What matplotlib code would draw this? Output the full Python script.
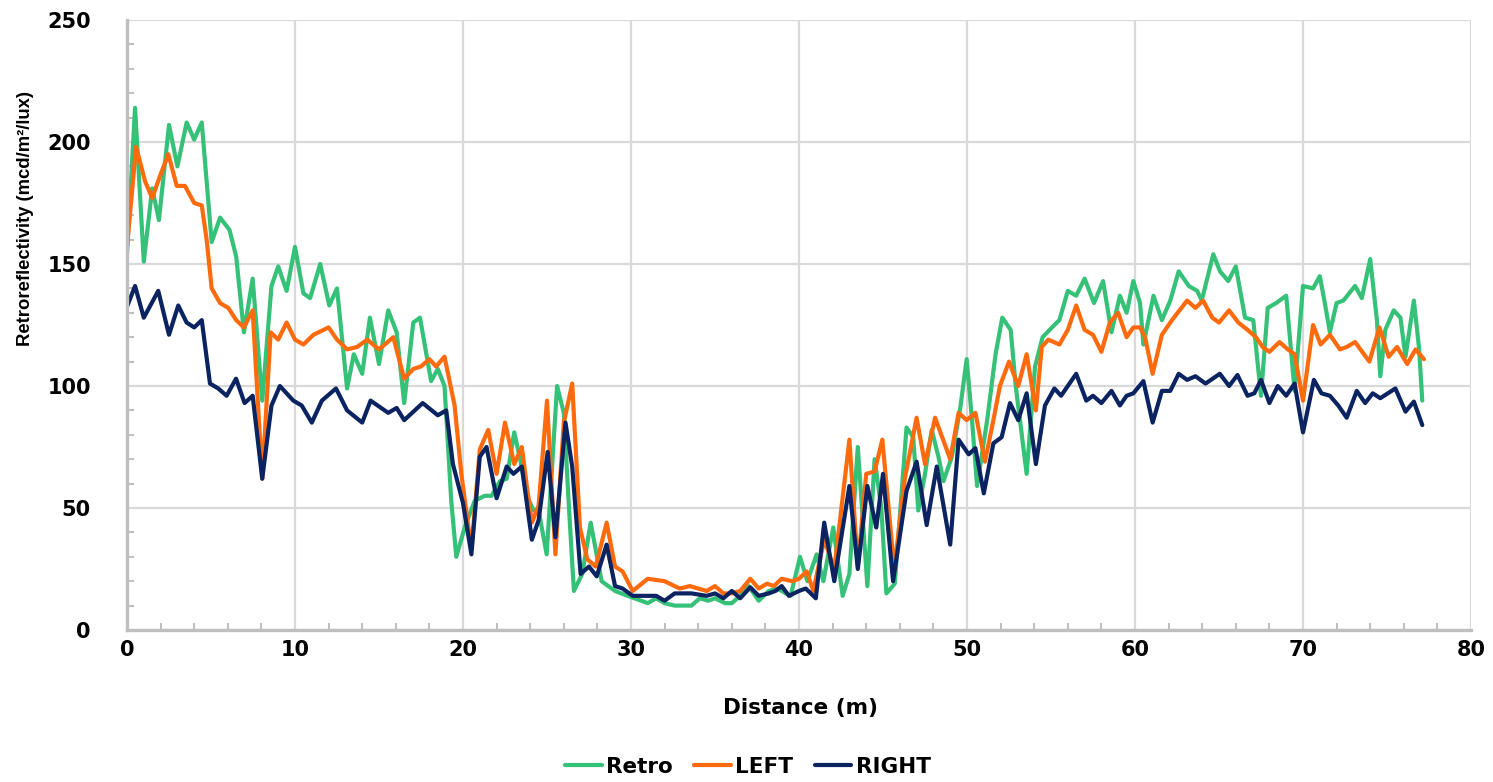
#!/usr/bin/env python3
"""Retroreflectivity along the marking: Retro / LEFT / RIGHT traces."""

import matplotlib
matplotlib.use("Agg")
import matplotlib.pyplot as plt
from matplotlib.ticker import MultipleLocator

# --- values (distance in m, retro in mcd/m2/lux) ---
retro_x = [0, 0.48, 1.0, 1.5, 1.9, 2.5, 3.0, 3.55, 4.0, 4.45,
           5.04, 5.54, 6.1, 6.5, 6.96, 7.48, 8.05, 8.6, 9.0, 9.5,
           10.0, 10.5, 10.9, 11.5, 12.04, 12.5, 13.1, 13.5, 14.0, 14.46,
           15.0, 15.55, 16.05, 16.5, 17.04, 17.44, 18.1, 18.5, 18.9, 19.3,
           19.6, 20.1, 20.7, 21.3, 21.7, 22.2, 22.6, 23.05, 23.4, 23.8,
           24.2, 24.5, 24.98, 25.6, 26.0, 26.3, 26.6, 27.1, 27.6, 28.25,
           29.05, 29.8, 30.6, 31.0, 31.5, 32.0, 32.6, 33.6, 34.1, 34.6,
           35.0, 35.6, 36.0, 36.5, 37.0, 37.6, 38.2, 38.7, 38.97, 39.5,
           40.06, 40.5, 41.05, 41.45, 42.04, 42.6, 43.0, 43.5, 44.07, 44.5,
           44.9, 45.2, 45.7, 46.4, 46.8, 47.1, 47.5, 47.9, 48.3, 48.6,
           49.1, 49.6, 49.98, 50.3, 50.6, 51.2, 51.7, 52.1, 52.6, 52.9,
           53.55, 54.05, 54.5, 55.2, 55.5, 56.0, 56.5, 57.0, 57.56, 58.1,
           58.6, 59.1, 59.5, 59.9, 60.3, 60.5, 61.1, 61.6, 62.1, 62.6,
           63.2, 63.7, 63.97, 64.66, 65.06, 65.55, 66.0, 66.55, 67.04, 67.5,
           67.9, 68.4, 69.0, 69.5, 70.0, 70.6, 71.0, 71.3, 71.6, 72.0,
           72.4, 73.1, 73.5, 74.0, 74.4, 74.6, 74.9, 75.4, 75.8, 76.1,
           76.6, 76.9, 77.1]
retro_y = [154, 214, 151, 181, 168, 207, 190, 208, 201, 208,
           159, 169, 164, 153, 122, 144, 94, 141, 149, 139,
           157, 138, 136, 150, 133, 140, 99, 113, 105, 128,
           109, 131, 122, 93, 126, 128, 102, 107, 100, 53,
           30, 42, 53, 55, 55, 61, 62, 81, 70, 55,
           49, 49, 31, 100, 89, 51, 16, 23, 44, 20,
           16, 14, 12, 11, 13, 11, 10, 10, 13, 12,
           13, 11, 11, 14, 18, 12, 16, 17, 16, 14,
           30, 20, 31, 20, 42, 14, 23, 75, 18, 70,
           50, 15, 19, 83, 79, 49, 64, 82, 71, 61,
           71, 91, 111, 86, 59, 86, 113, 128, 123, 100,
           64, 108, 120, 125, 127, 139, 137, 144, 134, 143,
           122, 137, 130, 143, 134, 117, 137, 127, 135, 147,
           141, 139, 135, 154, 147, 143, 149, 128, 127, 96,
           132, 134, 137, 98, 141, 140, 145, 134, 122, 134,
           135, 141, 136, 152, 127, 104, 123, 131, 128, 112,
           135, 116, 94]

left_x = [0, 0.54, 1.07, 1.5, 1.96, 2.46, 2.96, 3.45, 4.0, 4.45,
          4.74, 5.04, 5.54, 6.03, 6.5, 6.96, 7.48, 8.05, 8.55, 9.0,
          9.5, 10.0, 10.5, 11.1, 12.0, 12.5, 13.1, 13.7, 14.3, 15.0,
          15.85, 16.5, 17.04, 17.5, 18.0, 18.4, 18.9, 19.5, 19.9, 20.5,
          21.0, 21.5, 22.0, 22.5, 23.05, 23.5, 23.8, 24.1, 24.5, 25.0,
          25.5, 26.0, 26.5, 26.96, 27.4, 27.9, 28.55, 29.05, 29.5, 30.1,
          31.0, 32.0, 32.9, 33.5, 34.0, 34.5, 35.0, 35.5, 36.0, 36.5,
          37.1, 37.6, 38.1, 38.5, 38.97, 39.6, 40.0, 40.46, 40.85, 41.5,
          42.1, 43.0, 43.5, 44.0, 44.5, 44.96, 45.67, 46.3, 47.0, 47.5,
          48.1, 49.0, 49.5, 49.98, 50.5, 51.07, 51.57, 51.96, 52.5, 53.05,
          53.55, 54.1, 54.45, 54.84, 55.5, 56.0, 56.5, 57.0, 57.5, 58.0,
          58.5, 59.0, 59.5, 59.9, 60.3, 60.6, 61.05, 61.6, 62.2, 63.1,
          63.6, 64.05, 64.6, 65.0, 65.6, 66.15, 66.7, 67.2, 67.6, 68.0,
          68.6, 69.1, 69.5, 70.0, 70.6, 71.05, 71.6, 72.2, 72.6, 73.1,
          73.95, 74.55, 75.1, 75.6, 76.2, 76.7, 77.2]
left_y = [157, 198, 184, 177, 186, 195, 182, 182, 175, 174,
          160, 140, 134, 132, 127, 124, 131, 62, 122, 119,
          126, 119, 117, 121, 124, 119, 115, 116, 119, 115,
          120, 103, 107, 108, 111, 108, 112, 92, 64, 33,
          74, 82, 64, 85, 68, 75, 59, 44, 51, 94,
          31, 85, 101, 42, 29, 26, 44, 26, 24, 16,
          21, 20, 17, 18, 17, 16, 18, 15, 15, 16,
          21, 17, 19, 18, 21, 20, 21, 24, 16, 37,
          25, 78, 26, 64, 65, 78, 25, 62, 87, 68,
          87, 70, 89, 86, 89, 69, 86, 100, 110, 100,
          113, 90, 116, 119, 117, 123, 133, 123, 121, 114,
          126, 130, 120, 124, 124, 120, 105, 121, 127, 135,
          132, 135, 128, 126, 131, 126, 123, 120, 116, 114,
          118, 115, 113, 94, 125, 117, 121, 115, 116, 118,
          110, 124, 112, 116, 109, 115, 111]

right_x = [0, 0.48, 1.0, 1.86, 2.5, 3.05, 3.55, 4.0, 4.45, 4.94,
           5.43, 5.93, 6.49, 7.0, 7.48, 8.05, 8.6, 9.1, 9.9, 10.4,
           11.0, 11.6, 12.44, 13.1, 14.0, 14.5, 15.55, 16.05, 16.5, 17.6,
           18.5, 19.0, 19.4, 20.0, 20.5, 21.0, 21.4, 22.0, 22.6, 23.0,
           23.5, 24.1, 24.5, 25.04, 25.5, 26.1, 26.5, 27.0, 27.5, 27.96,
           28.55, 29.05, 29.5, 30.1, 30.6, 31.0, 31.5, 32.0, 32.6, 33.6,
           34.5, 35.0, 35.5, 36.0, 36.5, 37.1, 37.6, 38.2, 38.6, 38.97,
           39.4, 40.0, 40.4, 41.0, 41.5, 42.1, 43.0, 43.5, 44.07, 44.6,
           45.0, 45.6, 46.4, 47.0, 47.6, 48.2, 49.0, 49.5, 50.1, 50.5,
           51.0, 51.57, 52.06, 52.56, 53.05, 53.55, 54.1, 54.64, 55.2, 55.6,
           56.5, 57.1, 57.5, 58.0, 58.6, 59.1, 59.5, 59.9, 60.5, 61.05,
           61.6, 62.1, 62.6, 63.1, 63.6, 64.2, 65.05, 65.6, 66.1, 66.7,
           67.1, 67.5, 68.0, 68.5, 69.0, 69.5, 70.0, 70.65, 71.1, 71.6,
           72.1, 72.6, 73.2, 73.7, 74.15, 74.6, 75.5, 76.1, 76.6, 77.1]
right_y = [132.5, 141, 128, 139, 121, 133, 126, 124, 127, 101,
           99, 96, 103, 93, 96, 62, 92, 100, 94, 92,
           85, 94, 99, 90, 85, 94, 89, 91, 86, 93,
           88, 90, 68, 52, 31, 71, 75, 54, 67, 64,
           67, 37, 45, 73, 38, 85, 67, 23, 26, 22,
           35, 18, 17, 14, 14, 14, 14, 12, 15, 15,
           14, 15, 13, 16, 13, 17.5, 14, 15, 16, 18,
           14, 16, 17, 13, 44, 20, 59, 25, 59, 42,
           64, 20, 57, 69, 43, 67, 35, 78, 72, 74.5,
           56, 76.5, 79, 93, 86, 97, 68, 92, 99, 96,
           105, 94, 96, 93, 98, 92, 96, 97, 102, 85,
           98, 98, 105, 102.5, 104, 101, 105, 100, 104.5, 96,
           97, 102.5, 93, 100, 96, 101, 81, 102.5, 97, 96,
           92, 87, 98, 93, 97, 95, 99, 89.5, 93.6, 84]

series = [
    ("Retro", retro_x, retro_y, "#35C178"),
    ("LEFT", left_x, left_y, "#FF6A0D"),
    ("RIGHT", right_x, right_y, "#0B2461"),
]

W, H = 1493, 782
fig = plt.figure(figsize=(W / 100, H / 100), dpi=100)
ax = fig.add_axes([127 / W, 1 - 630 / H, (1471 - 127) / W, (630 - 20) / H])

for name, xs, ys, col in series:
    ax.plot(xs, ys, color=col, lw=3.0, label=name,
            solid_joinstyle="round", solid_capstyle="round")

ax.set_xlim(0, 80)
ax.set_ylim(0, 250)
ax.xaxis.set_major_locator(MultipleLocator(10))
ax.xaxis.set_minor_locator(MultipleLocator(2))
ax.yaxis.set_major_locator(MultipleLocator(50))
ax.yaxis.set_minor_locator(MultipleLocator(10))

grid_col = "#D9D9D9"
ax.grid(True, which="major", color=grid_col, lw=1.6)
ax.set_axisbelow(True)
for side in ("top", "right"):
    ax.spines[side].set_visible(False)
for side in ("left", "bottom"):
    ax.spines[side].set_color("#BFBFBF")
    ax.spines[side].set_linewidth(2.4)

ax.tick_params(which="both", direction="in", color="#BFBFBF", width=1.5)
ax.tick_params(which="major", length=0)
ax.tick_params(which="minor", length=5)
ax.tick_params(axis="x", which="major", pad=7)
ax.tick_params(axis="y", which="major", pad=26)
for lab in ax.get_xticklabels() + ax.get_yticklabels():
    lab.set_fontsize(15)
    lab.set_fontweight("bold")
    lab.set_family("DejaVu Sans")

fig.text(26 / W, 1 - 219 / H, "Retroreflectivity (mcd/m\u00b2/lux)",
         rotation=90, ha="center", va="center", fontsize=13.3,
         fontweight="bold", family="Liberation Sans")
fig.text(800 / W, 1 - 708 / H, "Distance (m)", ha="center", va="center",
         fontsize=15.5, fontweight="bold", family="DejaVu Sans")

leg = fig.legend(loc="center", bbox_to_anchor=(748 / W, 1 - 767 / H), ncol=3,
                 frameon=False, handlelength=1.7, handletextpad=0.2,
                 columnspacing=1.0, prop={"weight": "bold", "size": 15.5})

fig.savefig("out.png", dpi=100)
